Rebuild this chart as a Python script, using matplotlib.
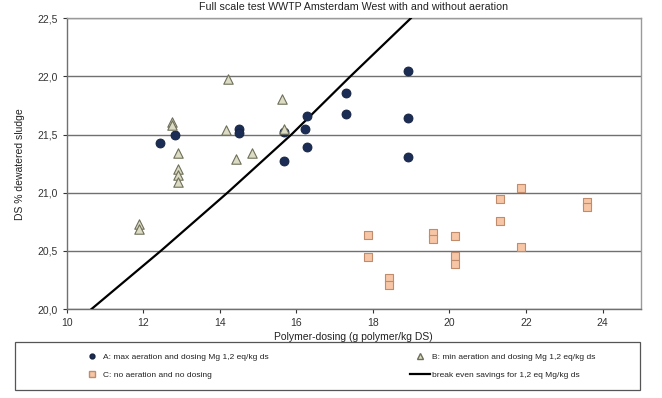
import matplotlib
matplotlib.use("Agg")
import matplotlib.pyplot as plt
from matplotlib.patches import Rectangle
from matplotlib.lines import Line2D

# Series A: max aeration and dosing Mg
a_x = [12.44, 12.83, 14.50, 14.50, 15.68, 15.68, 16.27, 16.22, 16.27, 17.29, 17.29, 18.93, 18.93, 18.93]
a_y = [21.43, 21.50, 21.55, 21.51, 21.52, 21.27, 21.66, 21.55, 21.39, 21.86, 21.68, 22.05, 21.64, 21.31]

# Series B: min aeration and dosing Mg
b_x = [14.21, 15.63, 12.74, 12.76, 14.17, 15.68, 12.90, 14.83, 14.42, 12.90, 12.90, 12.90, 11.90, 11.90]
b_y = [21.98, 21.81, 21.61, 21.58, 21.54, 21.55, 21.34, 21.34, 21.29, 21.20, 21.15, 21.09, 20.73, 20.69]

# Series C: no aeration and no dosing
c_x = [17.86, 17.86, 18.42, 18.42, 19.58, 19.58, 20.15, 20.15, 20.15, 21.31, 21.31, 21.87, 21.87, 23.60, 23.60]
c_y = [20.64, 20.45, 20.27, 20.21, 20.65, 20.60, 20.63, 20.46, 20.39, 20.95, 20.76, 21.04, 20.53, 20.92, 20.88]

# Break-even line
line_x = [10.65, 12.46, 14.20, 15.87, 17.41, 18.99]
line_y = [20.0, 20.5, 21.0, 21.5, 22.0, 22.5]

x_ticks = [10, 12, 14, 16, 18, 20, 22, 24]
y_ticks = [20.0, 20.5, 21.0, 21.5, 22.0, 22.5]
y_ticklabels = ["20,0", "20,5", "21,0", "21,5", "22,0", "22,5"]

title = "Full scale test WWTP Amsterdam West with and without aeration"
xlabel = "Polymer-dosing (g polymer/kg DS)"
ylabel = "DS % dewatered sludge"
labels = ["A: max aeration and dosing Mg 1,2 eq/kg ds",
          "B: min aeration and dosing Mg 1,2 eq/kg ds",
          "C: no aeration and no dosing",
          "break even savings for 1,2 eq Mg/kg ds"]

plt.rcParams['font.family'] = ['Liberation Sans', 'DejaVu Sans']

fig = plt.figure(figsize=(6.62, 3.98), dpi=100)
ax = fig.add_axes([0.1007, 0.2236, 0.8673, 0.7304])

for y in y_ticks:
    ax.axhline(y, color="#707070", lw=1.0, zorder=1)

ax.plot(line_x, line_y, color="black", lw=1.6, zorder=3)
ax.scatter(a_x, a_y, marker="o", s=42, facecolor="#1b2d55", edgecolor="#14213f", lw=0.6, zorder=4)
ax.scatter(b_x, b_y, marker="^", s=46, facecolor="#dcdcc4", edgecolor="#6e6e5a", lw=0.8, zorder=4)
ax.scatter(c_x, c_y, marker="s", s=36, facecolor="#f6c6a6", edgecolor="#c08c6c", lw=0.8, zorder=4)

ax.set_xlim(10, 25)
ax.set_ylim(20.0, 22.5)
ax.set_xticks(x_ticks)
ax.set_yticks(y_ticks)
ax.set_yticklabels(y_ticklabels)
ax.tick_params(axis="both", labelsize=7.5, colors="#333333", length=3, width=0.8)
for s in ax.spines.values():
    s.set_color("#9a9a9a")
    s.set_linewidth(1.0)
ax.spines["left"].set_color("#707070")
ax.spines["bottom"].set_color("#707070")

ax.set_title(title, fontsize=7.7, color="#222222", pad=6)
ax.set_xlabel(xlabel, fontsize=7.5, color="#222222", labelpad=3)
ax.set_ylabel(ylabel, fontsize=7.5, color="#222222", labelpad=9)

# legend box
fig.patches.append(Rectangle((15/662, 1-390/398), (640-15)/662, (390-342)/398,
                             transform=fig.transFigure, fill=False,
                             edgecolor="#555555", lw=0.9))
handles = [
    Line2D([], [], marker="o", ls="", markersize=3.5, markerfacecolor="#1b2d55", markeredgecolor="#14213f"),
    Line2D([], [], marker="^", ls="", markersize=4, markerfacecolor="#dcdcc4", markeredgecolor="#6e6e5a"),
    Line2D([], [], marker="s", ls="", markersize=4, markerfacecolor="#f6c6a6", markeredgecolor="#c08c6c"),
    Line2D([], [], color="black", lw=1.6),
]
order = [0, 2, 1, 3]
leg = fig.legend([handles[i] for i in order], [labels[i] for i in order],
                 ncol=2, loc="center left", bbox_to_anchor=(74/662, 1-366/398),
                 frameon=False, fontsize=6.0, handlelength=2.4, handletextpad=0.2,
                 columnspacing=17.0, labelspacing=1.2)
for t in leg.get_texts():
    t.set_color("#222222")

fig.savefig("out.png", dpi=100)
